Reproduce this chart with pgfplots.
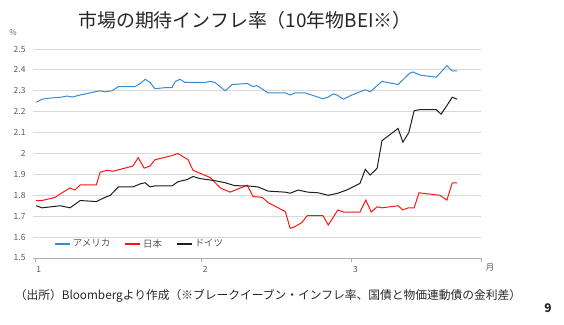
\documentclass[border=0pt]{standalone}
\usepackage{fontspec}
\setmainfont{Noto Sans CJK JP}
\usepackage{pgfplots}
\pgfplotsset{compat=1.18}
\usepackage{pgfplotstable}
\definecolor{usblue}{RGB}{52,140,214}
\definecolor{jpred}{RGB}{255,20,20}
\definecolor{deblack}{RGB}{30,30,30}
\definecolor{gridgray}{RGB}{217,217,217}
\definecolor{labgray}{RGB}{89,89,89}

\pgfplotstableread{
d v
0.2 2.245
1.3 2.26
2.8 2.265
5.0 2.27
6.0 2.275
6.9 2.27
8.4 2.28
10.2 2.29
12.1 2.30
13.0 2.295
14.3 2.30
15.5 2.32
18.6 2.32
19.6 2.335
20.5 2.355
21.4 2.34
22.3 2.31
24.2 2.315
25.5 2.315
26.1 2.345
27.0 2.355
27.9 2.34
29.8 2.34
31.7 2.34
32.6 2.345
33.5 2.34
35.4 2.30
36.7 2.33
39.5 2.335
40.6 2.32
41.3 2.325
43.4 2.29
46.6 2.29
47.5 2.28
48.4 2.29
50.3 2.29
53.6 2.262
54.6 2.27
55.5 2.285
56.2 2.28
57.4 2.26
59.0 2.28
60.5 2.295
61.5 2.305
62.4 2.295
64.6 2.345
67.6 2.33
69.8 2.385
70.4 2.39
71.7 2.375
74.7 2.365
76.7 2.42
77.7 2.395
78.6 2.395
}\usdata

\pgfplotstableread{
d v
0.2 1.775
1.3 1.775
3.7 1.79
5.2 1.815
6.5 1.835
7.4 1.825
8.4 1.85
11.4 1.85
12.1 1.91
13.4 1.92
14.5 1.915
18.2 1.94
19.2 1.98
20.3 1.93
21.4 1.94
22.3 1.97
25.5 1.99
26.6 2.00
28.5 1.97
29.4 1.92
32.6 1.885
34.5 1.835
36.3 1.815
39.5 1.848
40.6 1.794
42.3 1.79
43.4 1.765
46.6 1.722
47.5 1.642
48.4 1.65
49.7 1.67
50.7 1.703
53.6 1.703
54.6 1.658
56.4 1.73
57.4 1.72
60.5 1.72
61.6 1.777
62.6 1.72
63.7 1.745
64.6 1.74
67.6 1.75
68.5 1.73
69.5 1.74
70.6 1.74
71.5 1.812
75.4 1.80
76.7 1.777
77.7 1.86
78.6 1.86
}\jpdata

\pgfplotstableread{
d v
0.2 1.75
1.3 1.74
4.7 1.75
6.5 1.74
8.4 1.775
11.4 1.77
13.0 1.79
14.0 1.80
15.5 1.84
18.2 1.84
19.6 1.855
20.5 1.86
21.4 1.84
22.3 1.845
25.5 1.845
26.6 1.865
28.3 1.875
29.4 1.89
30.7 1.88
33.5 1.87
35.4 1.86
37.2 1.846
39.5 1.845
41.5 1.84
43.4 1.82
46.6 1.815
47.5 1.81
49.0 1.825
50.8 1.815
52.7 1.812
54.6 1.80
56.4 1.81
58.0 1.825
60.5 1.857
61.5 1.924
62.4 1.897
63.7 1.929
64.6 2.061
67.6 2.12
68.5 2.054
69.6 2.10
70.6 2.205
71.7 2.21
74.7 2.21
75.6 2.188
76.7 2.23
77.7 2.269
78.6 2.26
}\dedata

\begin{document}
\begin{tikzpicture}
\useasboundingbox (0,0) rectangle (564bp,325bp);
\begin{axis}[
  at={(33bp,67bp)}, anchor=south west,
  scale only axis, width=448bp, height=209bp,
  xmin=-0.4, xmax=83.05, ymin=1.5, ymax=2.5,
  xtick={0,31,59}, xticklabels={1,2,3},
  extra x ticks={83.05}, extra x tick labels={},
  ytick={1.5,1.6,...,2.51},
  /pgf/number format/assume math mode=true,
  yticklabel style={/pgf/number format/fixed, /pgf/number format/precision=1, font=\fontsize{8.5}{10}\selectfont, text=labgray},
  xticklabel style={anchor=north west, inner xsep=1bp, yshift=-1bp, font=\fontsize{8.5}{10}\selectfont, text=labgray},
  axis x line*=bottom, axis y line*=left,
  x axis line style={draw=gridgray!80!black, line width=0.8pt, -},
  y axis line style={draw=none},
  tick align=outside, major tick length=4bp,
  xtick style={draw=gridgray!80!black, line width=0.8pt},
  ytick style={draw=none},
  ymajorgrids, major grid style={gridgray, line width=0.9pt},
  legend columns=3,
  legend style={at={(0.04,0.067)}, anchor=west, draw=none, fill=none,
    font=\fontsize{9.5}{11}\selectfont, text=labgray,
    /tikz/every even column/.append style={column sep=12bp}},
  legend image code/.code={\draw[#1, line width=1.8bp] (0bp,0bp) -- (15bp,0bp);},
]
\addplot[usblue, line width=1bp, no marks] table[x=d,y=v] {\usdata};
\addlegendentry{アメリカ}
\addplot[jpred, line width=1bp, no marks] table[x=d,y=v] {\jpdata};
\addlegendentry{日本}
\addplot[deblack, line width=1bp, no marks] table[x=d,y=v] {\dedata};
\addlegendentry{ドイツ}
\end{axis}
\node[font=\fontsize{19}{22}\selectfont, text=black!85] at (245bp,305bp) {市場の期待インフレ率（10年物BEI※）};
\node[font=\fontsize{8}{9}\selectfont, text=labgray] at (13bp,292bp) {\%};
\node[font=\fontsize{8.5}{10}\selectfont, text=labgray] at (490bp,57bp) {月};
\node[font=\fontsize{11.8}{13}\selectfont, text=black!85] at (268bp,29bp) {（出所）Bloombergより作成（※ブレークイーブン・インフレ率、国債と物価連動債の金利差）};
\node[font=\fontsize{12}{14}\selectfont\bfseries, text=black!85] at (548bp,17bp) {9};
\end{tikzpicture}
\end{document}
